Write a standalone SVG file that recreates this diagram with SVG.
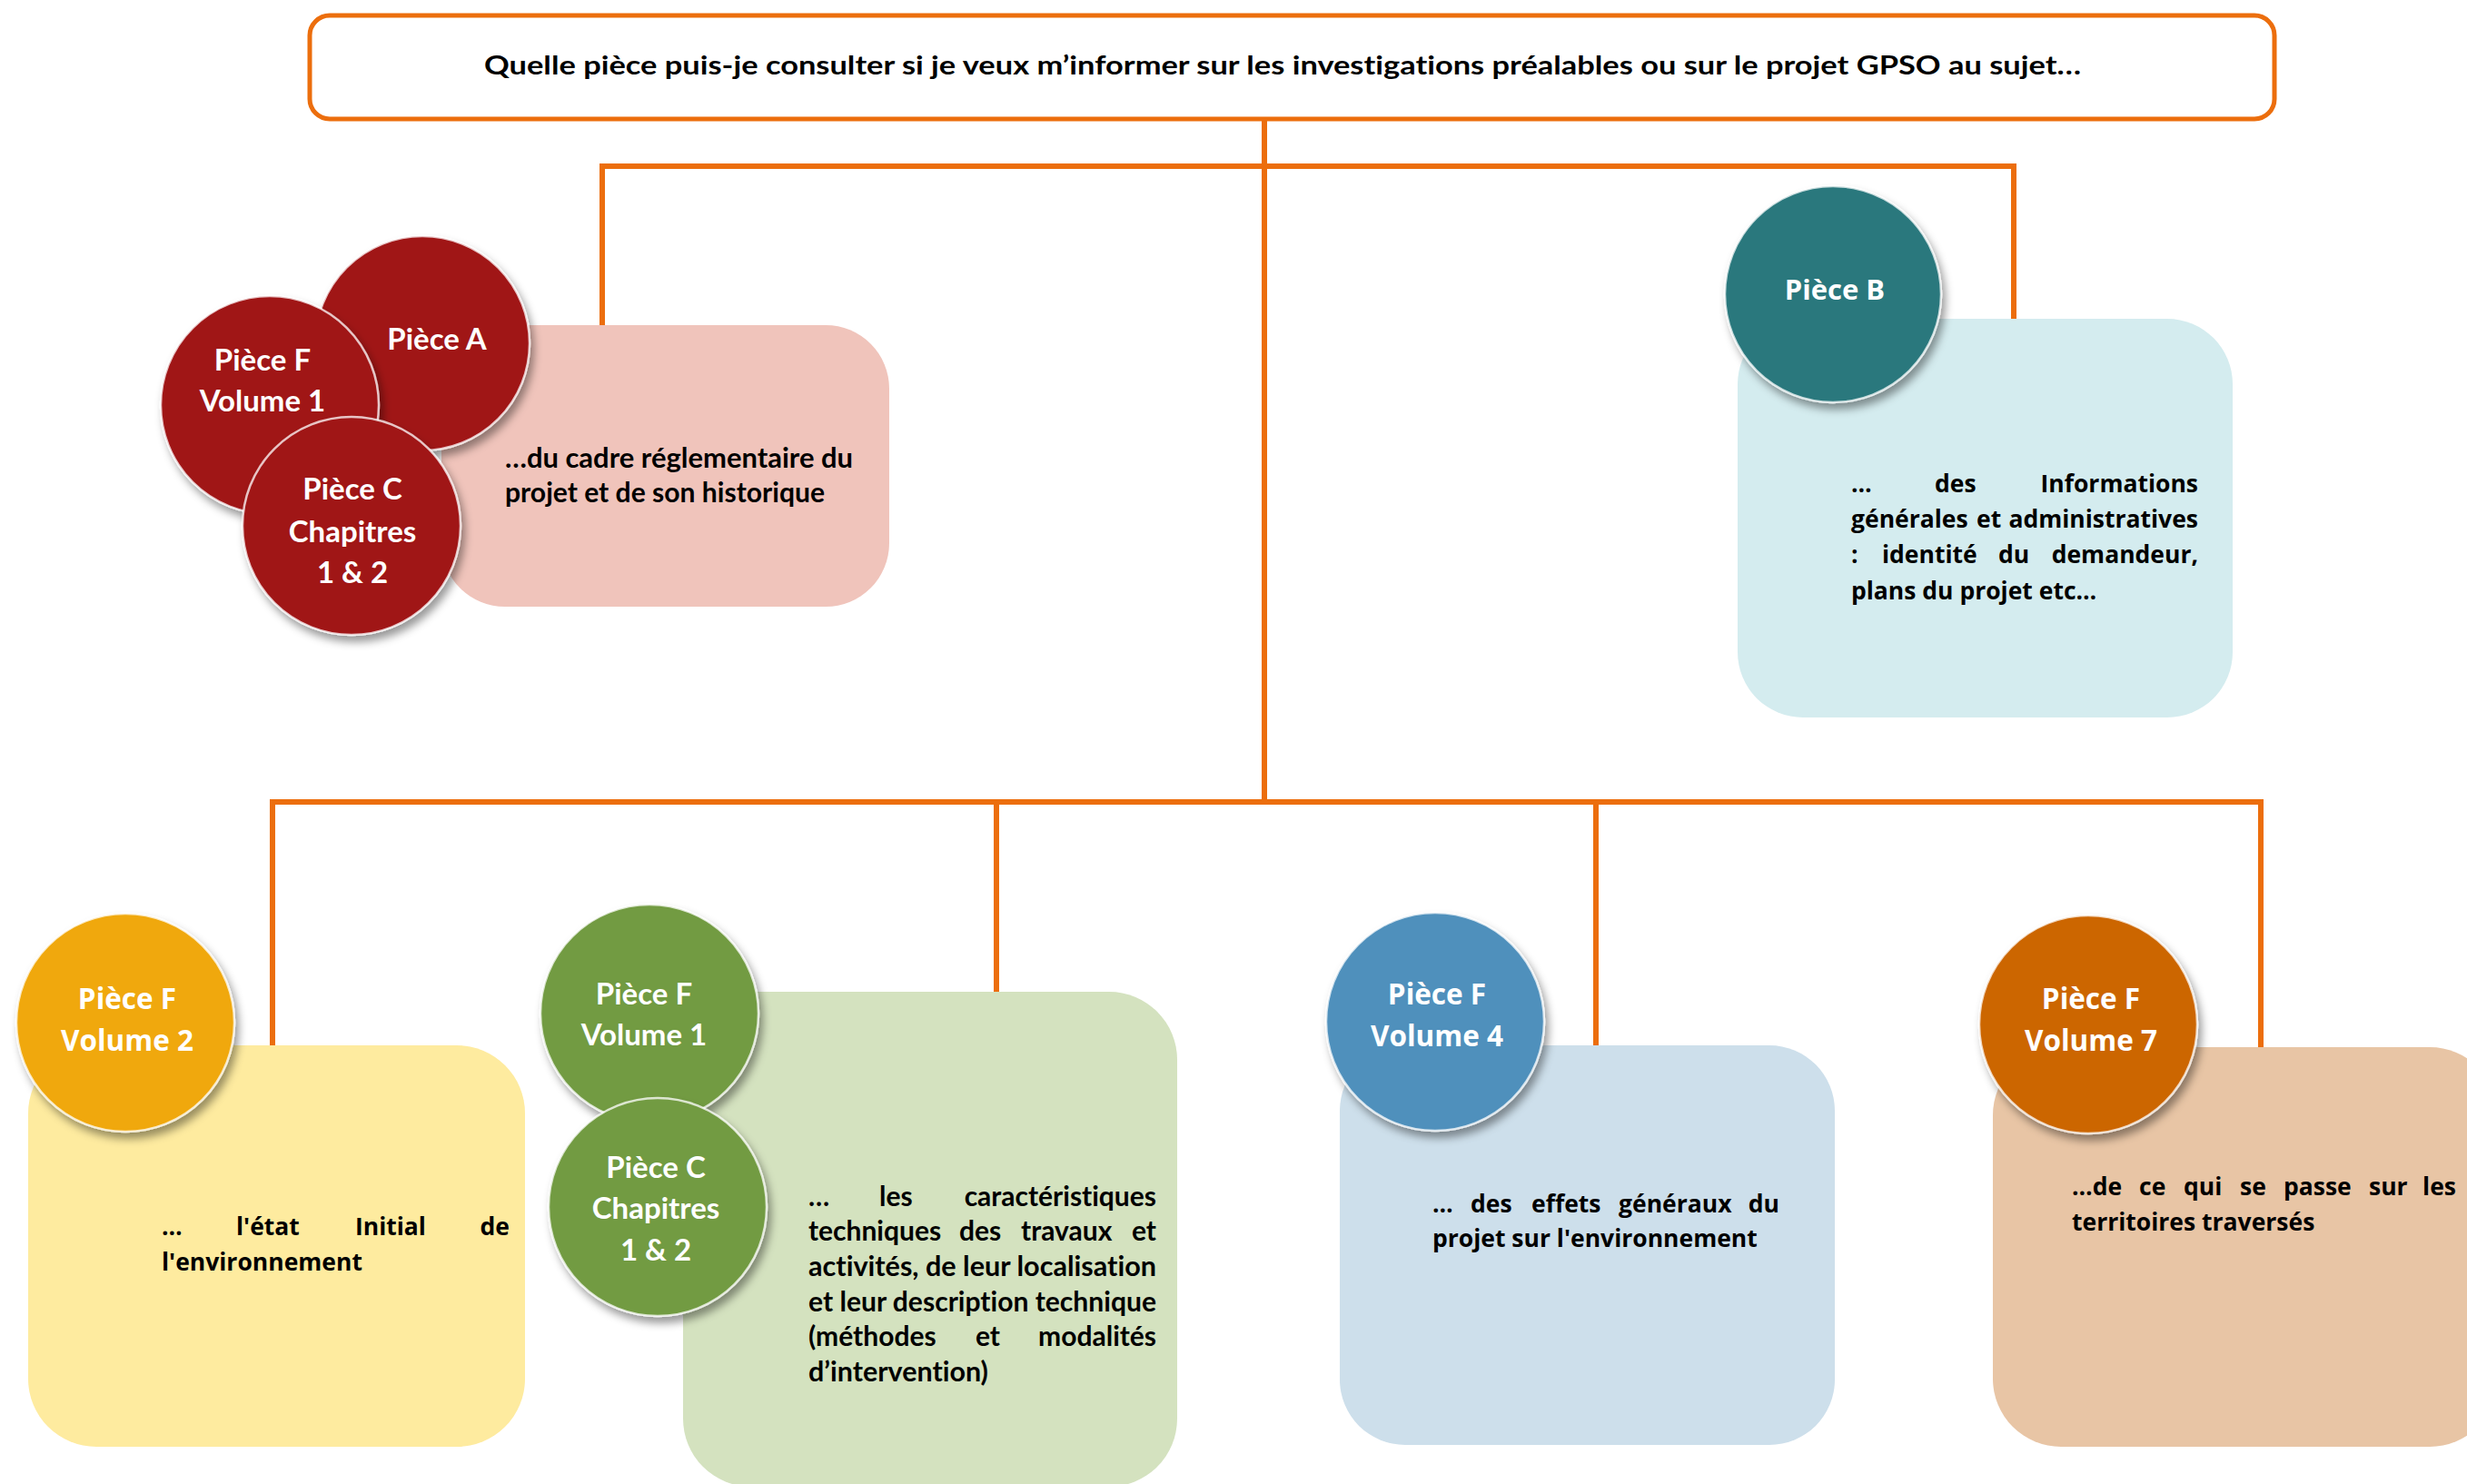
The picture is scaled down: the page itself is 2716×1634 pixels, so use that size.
<svg xmlns="http://www.w3.org/2000/svg" width="2716" height="1634" viewBox="0 0 2716 1634">
<defs>
<style>
.ln{fill:none;stroke:#EC6E0D;stroke-width:6}
.cal{font-family:Lato,"Liberation Sans",sans-serif;font-weight:700;font-variant-ligatures:none}
.os{font-family:"Open Sans","DejaVu Sans",sans-serif;font-weight:700;font-variant-ligatures:none}
.ct{fill:#fff;text-anchor:middle}
.bt{fill:#000}
.circ{stroke:#fff;stroke-opacity:0.75;stroke-width:2.5;filter:url(#sh)}
.e{text-anchor:end}
</style>
<filter id="sh" x="-20%" y="-20%" width="150%" height="150%">
<feDropShadow dx="4" dy="7" stdDeviation="5" flood-color="#000" flood-opacity="0.4"/>
</filter>
</defs>
<rect width="2716" height="1634" fill="#fff"/>

<g id="connectors">
<path class="ln" d="M1392,132 V883"/>
<path class="ln" d="M663,358 V183 H2217 V352"/>
<path class="ln" d="M300,1151 V883 H2489 V1153"/>
<path class="ln" d="M1097,883 V1092"/>
<path class="ln" d="M1757,883 V1151"/>
</g>

<g id="header">
<rect x="341" y="17" width="2163" height="114" rx="22" fill="#fff" stroke="#EC6E0D" stroke-width="5"/>
<text class="cal bt" x="533" y="82" font-size="28.5" textLength="1758" lengthAdjust="spacingAndGlyphs">Quelle pièce puis-je consulter si je veux m’informer sur les investigations préalables ou sur le projet GPSO au sujet…</text>
</g>

<g id="node-cadre">
<rect x="486" y="358" width="493" height="310" rx="70" fill="#F0C4BB"/>
<g class="cal bt" font-size="30">
<text x="556" y="515" textLength="383" lengthAdjust="spacingAndGlyphs">…du cadre réglementaire du</text>
<text x="556" y="553" textLength="352" lengthAdjust="spacingAndGlyphs">projet et de son historique</text>
</g>
<circle class="circ" cx="465" cy="378" r="118" fill="#A01316"/>
<text class="cal ct" x="481" y="385" font-size="33">Pièce A</text>
<circle class="circ" cx="297" cy="446" r="120" fill="#A01316"/>
<text class="cal ct" x="289" y="408" font-size="33">Pièce F</text>
<text class="cal ct" x="289" y="453" font-size="33">Volume 1</text>
<circle class="circ" cx="387" cy="579" r="120" fill="#A01316"/>
<text class="cal ct" x="388" y="550" font-size="33">Pièce C</text>
<text class="cal ct" x="388" y="597" font-size="33">Chapitres</text>
<text class="cal ct" x="388" y="642" font-size="33">1 &amp; 2</text>
</g>

<g id="node-pieceB">
<rect x="1913" y="351" width="545" height="439" rx="72" fill="#D4ECEF"/>
<g class="os bt" font-size="26.5">
<text x="2038" y="542">…</text>
<text x="2130" y="542">des</text>
<text x="2420" y="542" class="e">Informations</text>
<text x="2038" y="581">générales</text>
<text x="2176" y="581">et</text>
<text x="2420" y="581" class="e">administratives</text>
<text x="2038" y="620">:</text>
<text x="2072" y="620">identité</text>
<text x="2200" y="620">du</text>
<text x="2420" y="620" class="e">demandeur,</text>
<text x="2038" y="660">plans du projet etc…</text>
</g>
<circle class="circ" cx="2018" cy="324" r="119" fill="#2B787D"/>
<text class="os ct" x="2020" y="330" font-size="31">Pièce B</text>
</g>

<g id="node-vol2">
<rect x="31" y="1151" width="547" height="442" rx="75" fill="#FEEB9F"/>
<g class="os bt" font-size="26.5">
<text x="178" y="1360">…</text>
<text x="260" y="1360">l'état</text>
<text x="391" y="1360">Initial</text>
<text x="561" y="1360" class="e">de</text>
<text x="178" y="1399">l'environnement</text>
</g>
<circle class="circ" cx="138" cy="1126" r="120" fill="#F0A80A"/>
<text class="os ct" x="140" y="1111" font-size="31.5">Pièce F</text>
<text class="os ct" x="140" y="1157" font-size="31.5">Volume 2</text>
</g>

<g id="node-techniques">
<rect x="752" y="1092" width="544" height="545" rx="75" fill="#D4E2BF"/>
<g class="cal bt" font-size="30">
<text x="890" y="1328">…</text>
<text x="968" y="1328">les</text>
<text x="1273" y="1328" class="e">caractéristiques</text>
<text x="890" y="1366">techniques</text>
<text x="1056" y="1366">des</text>
<text x="1124" y="1366">travaux</text>
<text x="1273" y="1366" class="e">et</text>
<text x="890" y="1405" textLength="383" lengthAdjust="spacingAndGlyphs">activités, de leur localisation</text>
<text x="890" y="1444" textLength="383" lengthAdjust="spacingAndGlyphs">et leur description technique</text>
<text x="890" y="1482">(méthodes</text>
<text x="1074" y="1482">et</text>
<text x="1273" y="1482" class="e">modalités</text>
<text x="890" y="1521" textLength="198" lengthAdjust="spacingAndGlyphs">d’intervention)</text>
</g>
<circle class="circ" cx="715" cy="1116" r="120" fill="#729B42"/>
<text class="cal ct" x="709" y="1106" font-size="33">Pièce F</text>
<text class="cal ct" x="709" y="1151" font-size="33">Volume 1</text>
<circle class="circ" cx="724" cy="1329" r="120" fill="#729B42"/>
<text class="cal ct" x="722" y="1297" font-size="33">Pièce C</text>
<text class="cal ct" x="722" y="1342" font-size="33">Chapitres</text>
<text class="cal ct" x="722" y="1388" font-size="33">1 &amp; 2</text>
</g>

<g id="node-vol4">
<rect x="1475" y="1151" width="545" height="440" rx="72" fill="#CDDFEB"/>
<g class="os bt" font-size="26.5">
<text x="1577" y="1335">…</text>
<text x="1619" y="1335">des</text>
<text x="1686" y="1335">effets</text>
<text x="1782" y="1335">généraux</text>
<text x="1959" y="1335" class="e">du</text>
<text x="1577" y="1373">projet sur l'environnement</text>
</g>
<circle class="circ" cx="1580" cy="1125" r="120" fill="#4F90BC"/>
<text class="os ct" x="1582" y="1106" font-size="31.5">Pièce F</text>
<text class="os ct" x="1582" y="1152" font-size="31.5">Volume 4</text>
</g>

<g id="node-vol7">
<rect x="2194" y="1153" width="556" height="440" rx="75" fill="#E8C5A5"/>
<g class="os bt" font-size="26.5">
<text x="2281" y="1316">…de</text>
<text x="2355" y="1316">ce</text>
<text x="2404" y="1316">qui</text>
<text x="2466" y="1316">se</text>
<text x="2514" y="1316">passe</text>
<text x="2608" y="1316">sur</text>
<text x="2704" y="1316" class="e">les</text>
<text x="2281" y="1355">territoires traversés</text>
</g>
<circle class="circ" cx="2299" cy="1128" r="120" fill="#CC6603"/>
<text class="os ct" x="2302" y="1111" font-size="31.5">Pièce F</text>
<text class="os ct" x="2302" y="1157" font-size="31.5">Volume 7</text>
</g>
</svg>
